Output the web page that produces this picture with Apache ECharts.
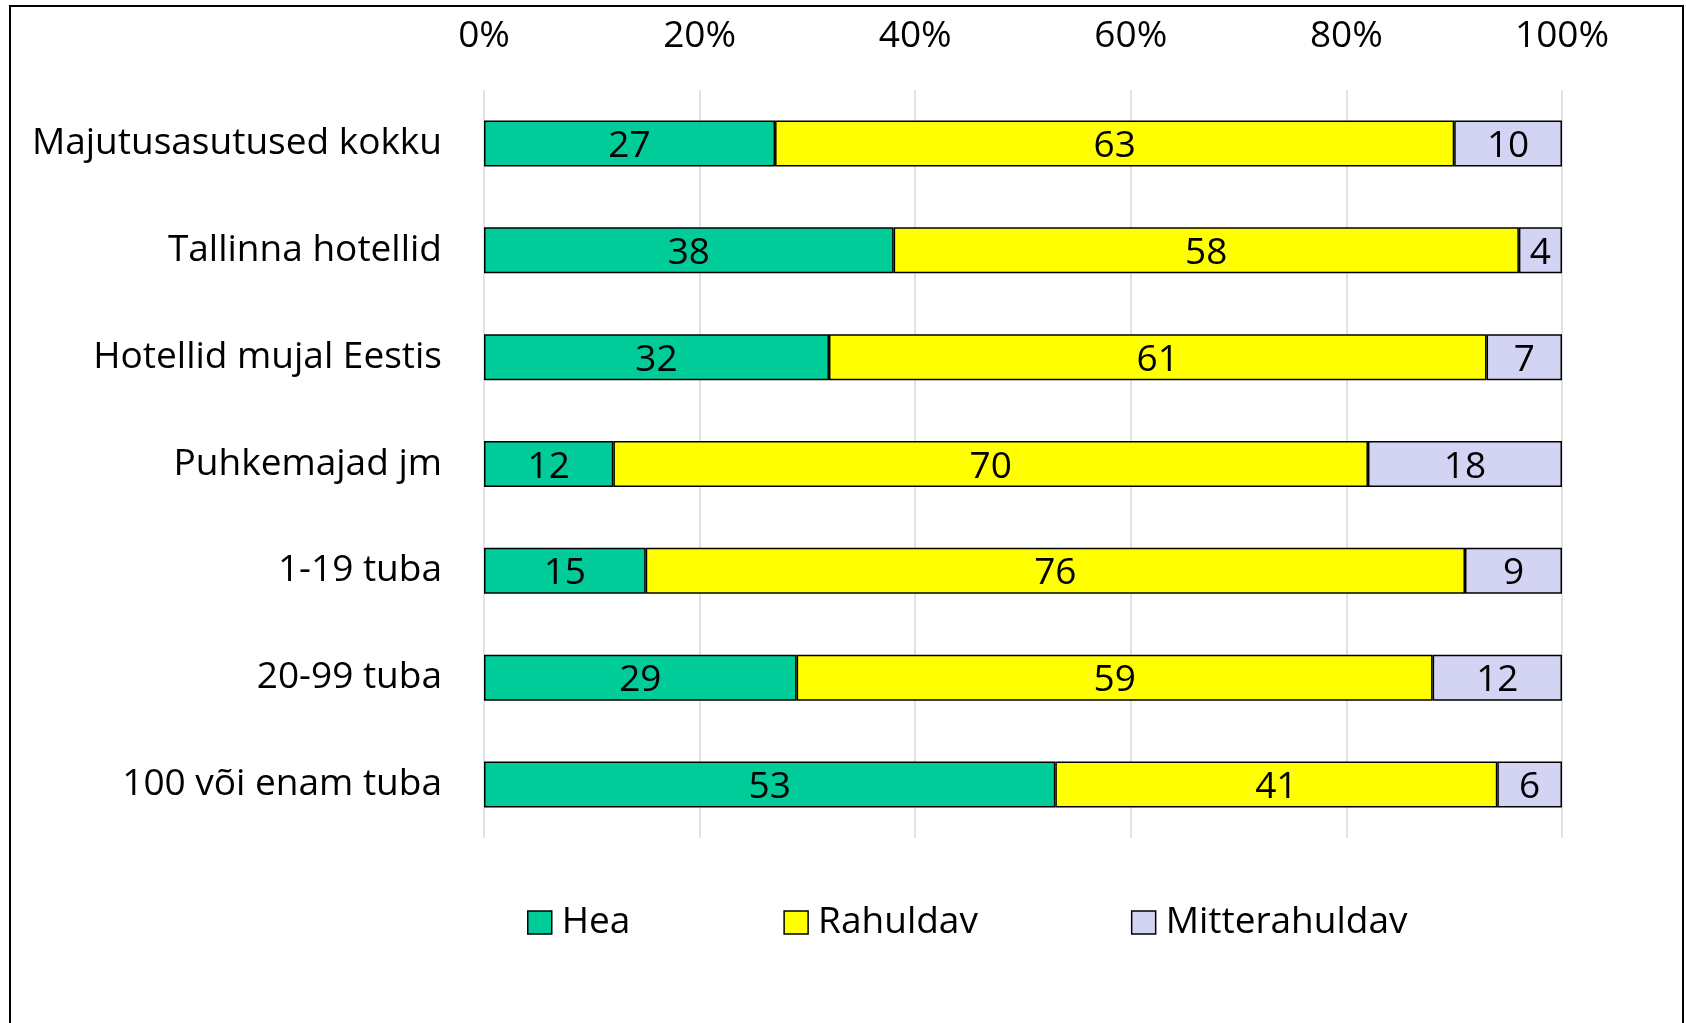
<!DOCTYPE html>
<html>
<head>
<meta charset="utf-8">
<script src="https://cdn.jsdelivr.net/npm/echarts@6/dist/echarts.min.js"></script>
<style>
  html, body { margin: 0; padding: 0; background: #fff; }
  #chart { width: 1686px; height: 1023px; }
</style>
</head>
<body>
<div id="chart"></div>
<script>
// kategooriad ülevalt alla
var categories = ['Majutusasutused kokku', 'Tallinna hotellid', 'Hotellid mujal Eestis', 'Puhkemajad jm', '1-19 tuba', '20-99 tuba', '100 või enam tuba'];
var hea = [27, 38, 32, 12, 15, 29, 53];
var rahuldav = [63, 58, 61, 70, 76, 59, 41];
var mitterahuldav = [10, 4, 7, 18, 9, 12, 6];
var seriesNames = ['Hea', 'Rahuldav', 'Mitterahuldav'];
var xTicks = [0, 20, 40, 60, 80, 100];

var FONT = '"Open Sans", "Noto Sans", sans-serif';
var colors = ['#00CC99', '#FFFF00', '#D3D3F3'];

var chart = echarts.init(document.getElementById('chart'));

function barSeries(name, data, color) {
    return {
        name: name,
        type: 'bar',
        stack: 'total',
        barWidth: 46,
        data: data,
        itemStyle: {
            color: color,
            borderColor: '#000',
            borderWidth: 1.5
        },
        label: {
            show: true,
            position: 'inside',
            offset: [0, 3],
            color: '#000',
            fontFamily: FONT,
            fontSize: 37
        }
    };
}

var option = {
    backgroundColor: '#fff',
    animation: false,
    color: colors,
    textStyle: { fontFamily: FONT },
    grid: {
        left: 484,
        right: 124,
        top: 90,
        bottom: 1023 - 838
    },
    xAxis: {
        type: 'value',
        position: 'top',
        min: xTicks[0],
        max: xTicks[xTicks.length - 1],
        interval: 20,
        axisLine: { show: false },
        axisTick: { show: false },
        splitLine: { lineStyle: { color: '#D9D9D9', width: 1.5 } },
        axisLabel: {
            formatter: '{value}%',
            color: '#000',
            fontFamily: FONT,
            fontSize: 37,
            margin: 35
        }
    },
    yAxis: {
        type: 'category',
        inverse: true,
        data: categories,
        axisLine: { show: false },
        axisTick: { show: false },
        axisLabel: {
            color: '#000',
            fontFamily: FONT,
            fontSize: 37,
            margin: 42,
            padding: [8, 0, 0, 0]
        }
    },
    legend: {
        data: seriesNames,
        left: 522,
        top: 899,
        itemWidth: 24,
        itemHeight: 23,
        itemGap: 153,
        icon: 'rect',
        itemStyle: { borderColor: '#000', borderWidth: 1.5 },
        textStyle: {
            color: '#000',
            fontFamily: FONT,
            fontSize: 37,
            padding: [0, 0, 0, 5]
        }
    },
    graphic: [{
        type: 'rect',
        shape: { x: 10, y: 6, width: 1673, height: 1040 },
        style: { fill: 'none', stroke: '#000', lineWidth: 2 },
        silent: true
    }],
    series: [
        barSeries(seriesNames[0], hea, colors[0]),
        barSeries(seriesNames[1], rahuldav, colors[1]),
        barSeries(seriesNames[2], mitterahuldav, colors[2])
    ]
};

chart.setOption(option);
</script>
</body>
</html>
